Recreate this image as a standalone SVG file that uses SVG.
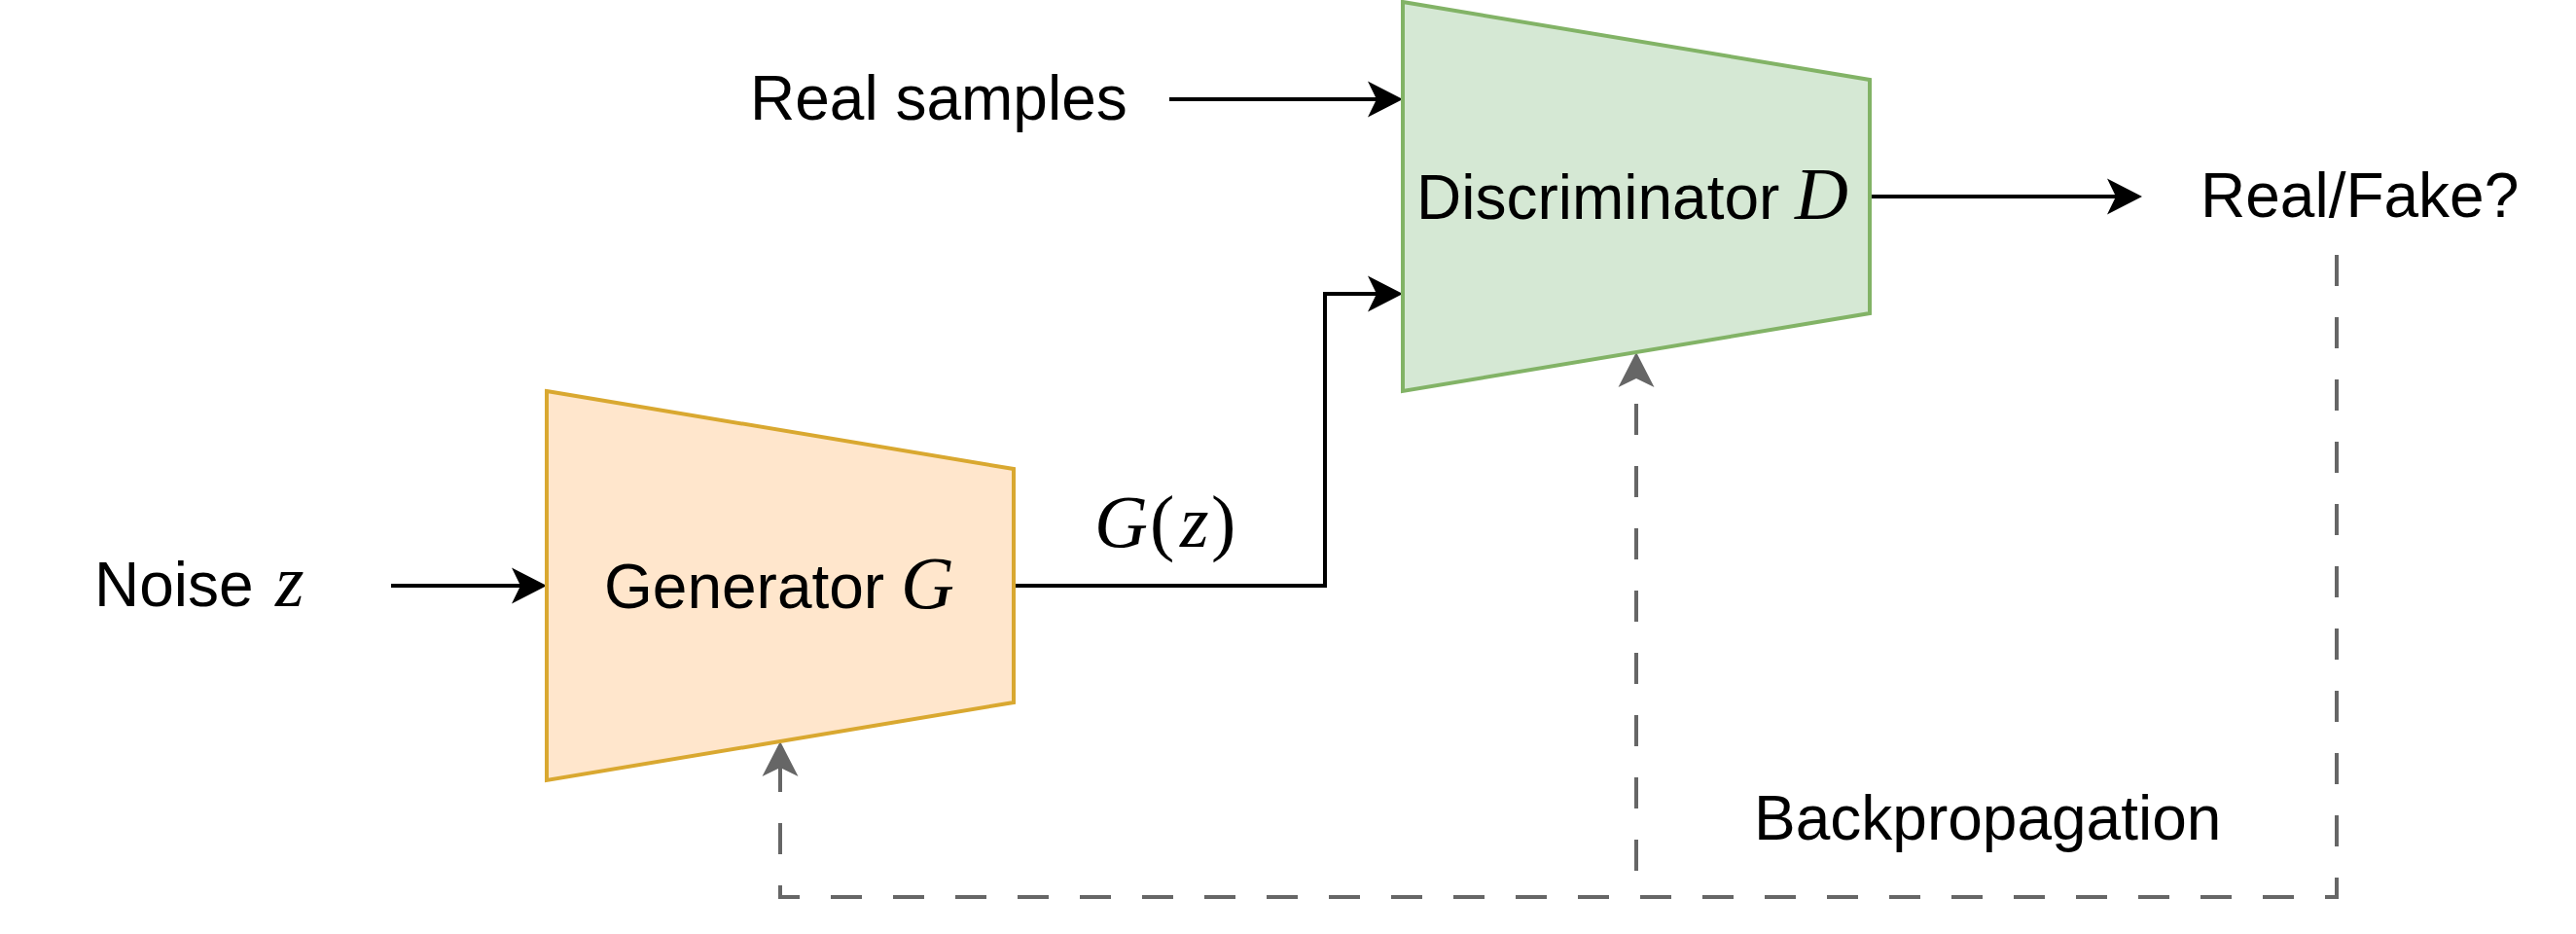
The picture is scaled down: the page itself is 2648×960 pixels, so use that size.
<svg xmlns="http://www.w3.org/2000/svg" width="2648" height="960" viewBox="0 0 2648 960">
  <style>
    .lbl { font-family: "Liberation Sans", Arial, sans-serif; font-size: 64px; fill: #000000; }
    .math { font-family: "Liberation Serif", "Times New Roman", serif; font-style: italic; font-size: 76px; }
    .mathup { font-family: "Liberation Serif", "Times New Roman", serif; font-style: normal; font-size: 76px; }
    .edge { fill: none; stroke: #000000; stroke-width: 4; }
    .back { fill: none; stroke: #666666; stroke-width: 4; stroke-dasharray: 32 32; }
  </style>
  <defs>
    <marker id="arrowBlack" markerUnits="userSpaceOnUse" markerWidth="40" markerHeight="40" viewBox="0 0 40 40" refX="9" refY="20" orient="auto" overflow="visible">
      <path d="M36,20 L0,1.5 L9,20 L0,38.5 Z" fill="#000000"/>
    </marker>
    <marker id="arrowGrey" markerUnits="userSpaceOnUse" markerWidth="40" markerHeight="40" viewBox="0 0 40 40" refX="9" refY="20" orient="auto" overflow="visible">
      <path d="M36,20 L0,1.5 L9,20 L0,38.5 Z" fill="#666666"/>
    </marker>
  </defs>
  <rect x="0" y="0" width="2648" height="960" fill="#ffffff"/>

  <g id="connectors">
    <path class="edge" d="M402 602 H535" marker-end="url(#arrowBlack)"/>
    <path class="edge" d="M1042 602 H1362 V302 H1415" marker-end="url(#arrowBlack)"/>
    <path class="edge" d="M1202 102 H1415" marker-end="url(#arrowBlack)"/>
    <path class="edge" d="M1922 202 H2175" marker-end="url(#arrowBlack)"/>
    <path class="back" d="M2402 262 V922 H802 V789" marker-end="url(#arrowGrey)"/>
    <path class="back" d="M1682 922 V389" stroke-dashoffset="37" marker-end="url(#arrowGrey)"/>
  </g>

  <g id="generator">
    <polygon points="562,402 1042,482 1042,722 562,802" fill="#ffe6cc" stroke="#d9a830" stroke-width="4"/>
    <text class="lbl" x="621" y="625">Generator<tspan class="math" x="926">G</tspan></text>
  </g>

  <g id="discriminator">
    <polygon points="1442,2 1922,82 1922,322 1442,402" fill="#d5e8d4" stroke="#82b366" stroke-width="4"/>
    <text class="lbl" x="1456" y="225">Discriminator<tspan class="math" x="1845">D</tspan></text>
  </g>

  <g id="noise">
    <text class="lbl" x="97" y="623">Noise<tspan class="math" x="283">z</tspan></text>
  </g>

  <g id="real-samples">
    <text class="lbl" x="771" y="123">Real samples</text>
  </g>

  <g id="real-fake">
    <text class="lbl" x="2262" y="223">Real/Fake?</text>
  </g>

  <g id="backprop-label">
    <text class="lbl" x="1803" y="863">Backpropagation</text>
  </g>

  <g id="gz-label">
    <text y="562"><tspan class="math" x="1125">G</tspan><tspan class="mathup" x="1182">(</tspan><tspan class="math" x="1213">z</tspan><tspan class="mathup" x="1245">)</tspan></text>
  </g>
</svg>
